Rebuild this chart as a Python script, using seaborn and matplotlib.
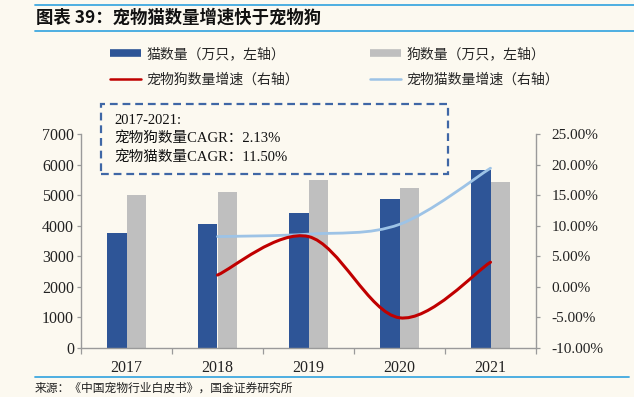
import numpy as np
import pandas as pd
import matplotlib
matplotlib.use('Agg')
import matplotlib.pyplot as plt
from matplotlib.path import Path
from matplotlib.patches import PathPatch, Rectangle
from matplotlib.lines import Line2D
from matplotlib.ticker import FuncFormatter
import seaborn as sns

# data
years = ['2017', '2018', '2019', '2020', '2021']
cat_count = [3756, 4064, 4412, 4862, 5806]
dog_count = [4990, 5085, 5503, 5222, 5429]
growth_years = ['2018', '2019', '2020', '2021']
dog_growth = [1.9, 8.2, -5.1, 4.0]
cat_growth = [8.2, 8.6, 10.2, 19.4]

cat_label = '猫数量（万只，左轴）'
dog_label = '狗数量（万只，左轴）'
dog_g_label = '宠物狗数量增速（右轴）'
cat_g_label = '宠物猫数量增速（右轴）'

BG = '#FCF9F0'
BLUE = '#2E5597'
GRAY = '#BFBFBF'
RED = '#C00000'
LBLUE = '#9DC3E6'
SPINE = '#9A9A9A'
LINE = '#3FA9E0'

sns.set_theme(style='ticks', rc={'figure.facecolor': BG, 'axes.facecolor': BG})
plt.rcParams['font.family'] = ['Liberation Serif', 'Noto Sans CJK SC', 'DejaVu Sans']

W, H = 634, 397
fx = lambda px: px / W
fy = lambda py: 1 - py / H

df = pd.DataFrame({
    'year': years * 2,
    'value': cat_count + dog_count,
    'kind': [cat_label] * len(years) + [dog_label] * len(years),
})

fig = plt.figure(figsize=(6.34, 3.97), dpi=100)
ax = fig.add_axes([fx(81), fy(347.7), fx(536) - fx(81), fy(134) - fy(347.7)])

sns.barplot(data=df, x='year', y='value', hue='kind', order=years,
            hue_order=[cat_label, dog_label], palette=[BLUE, GRAY],
            width=0.42, gap=0, saturation=1, legend=False, ax=ax,
            edgecolor='none', linewidth=0)

ax.set_xlim(-0.5, len(years) - 0.5)
ax.set_ylim(0, 7000)
ax.set_yticks(range(0, 7001, 1000))
ax.set_xlabel('')
ax.set_ylabel('')
ax.set_xticks(range(len(years)))
ax.set_xticklabels(years)
ax.set_xticks(np.arange(-0.5, len(years), 1), minor=True)
ax.tick_params(axis='x', which='major', length=0, pad=9, labelsize=11.5, labelcolor='#222222')
ax.tick_params(axis='x', which='minor', length=4, width=0.9, color=SPINE)
ax.tick_params(axis='y', length=3, width=0.9, color=SPINE, pad=2, labelsize=11.5, labelcolor='#222222')
for s in ['left', 'bottom']:
    ax.spines[s].set_color(SPINE)
    ax.spines[s].set_linewidth(1.0)
for s in ['top', 'right']:
    ax.spines[s].set_visible(False)


def smooth_path(xs, ys, k=1 / 6):
    # Excel-style smoothed line through the points
    pts = np.column_stack([xs, ys]).astype(float)
    n = len(pts)
    verts = [pts[0]]
    codes = [Path.MOVETO]
    for i in range(n - 1):
        p0 = pts[i - 1] if i > 0 else pts[i]
        p1 = pts[i]
        p2 = pts[i + 1]
        p3 = pts[i + 2] if i + 2 < n else pts[i + 1]
        verts += [p1 + (p2 - p0) * k, p2 - (p3 - p1) * k, p2]
        codes += [Path.CURVE4] * 3
    return Path(verts, codes)


ax2 = ax.twinx()
ax2.set_ylim(-10, 25)
ax2.set_yticks(range(-10, 26, 5))
ax2.yaxis.set_major_formatter(FuncFormatter(lambda v, _: f'{v:.2f}%'))
gx = [years.index(y) for y in growth_years]
ax2.add_patch(PathPatch(smooth_path(gx, cat_growth), fill=False, edgecolor=LBLUE, lw=2.0, capstyle='round'))
ax2.add_patch(PathPatch(smooth_path(gx, dog_growth), fill=False, edgecolor=RED, lw=2.2, capstyle='round'))
ax2.set_xlim(-0.5, len(years) - 0.5)
ax2.tick_params(axis='y', length=3, width=0.9, color=SPINE, pad=8, labelsize=11, labelcolor='#222222')
ax2.spines['right'].set_color(SPINE)
ax2.spines['right'].set_linewidth(1.0)
for s in ['top', 'left', 'bottom']:
    ax2.spines[s].set_visible(False)
ax2.grid(False)
ax.grid(False)

# legends
leg_kw = dict(frameon=False, handlelength=2.2, handletextpad=0.4,
              labelspacing=0.85, borderpad=0, borderaxespad=0, loc='upper left',
              prop={'family': ['Noto Sans CJK SC'], 'size': 10})
h_cat = Line2D([], [], color=BLUE, lw=5.5, solid_capstyle='butt')
h_dog = Line2D([], [], color=GRAY, lw=5.5, solid_capstyle='butt')
h_red = Line2D([], [], color=RED, lw=1.8)
h_lb = Line2D([], [], color=LBLUE, lw=1.8)
fig.legend([h_cat, h_red], [cat_label, dog_g_label], bbox_to_anchor=(fx(110), fy(47)), **leg_kw)
fig.legend([h_dog, h_lb], [dog_label, cat_g_label], bbox_to_anchor=(fx(370), fy(47)), **leg_kw)

# CAGR annotation box
fig.add_artist(Rectangle((fx(101), fy(174)), fx(448) - fx(101), fy(104) - fy(174),
                         transform=fig.transFigure, fill=False, edgecolor='#3F67A6',
                         lw=1.6, ls=(0, (3.5, 2.2))))
fig.text(fx(114), fy(120), '2017-2021:', fontsize=10.5, va='center', color='#111111')
fig.text(fx(114), fy(138), '宠物狗数量CAGR：2.13%', fontsize=10.5, va='center', color='#111111')
fig.text(fx(114), fy(157), '宠物猫数量CAGR：11.50%', fontsize=10.5, va='center', color='#111111')

# title and source
fig.add_artist(Line2D([fx(35), 1], [fy(5), fy(5)], transform=fig.transFigure, color=LINE, lw=1.3))
fig.add_artist(Line2D([fx(35), 1], [fy(31), fy(31)], transform=fig.transFigure, color=LINE, lw=1.3))
fig.text(fx(36), fy(18), '图表 39：宠物猫数量增速快于宠物狗', fontsize=12.5, fontweight='bold',
         style='italic', va='center', family=['Noto Sans CJK SC'], color='#111111')
fig.add_artist(Line2D([fx(35), fx(629)], [fy(376.7), fy(376.7)], transform=fig.transFigure, color=LINE, lw=1.3))
fig.text(fx(35), fy(388), '来源：《中国宠物行业白皮书》，国金证券研究所', fontsize=8.5, va='center',
         family=['Noto Sans CJK SC'], color='#222222')

fig.savefig('out.png', dpi=100, facecolor=BG)
